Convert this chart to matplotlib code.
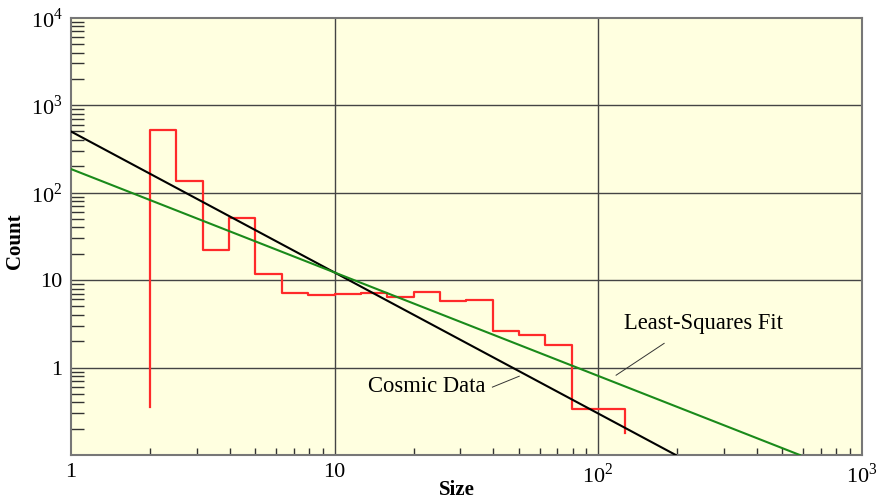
import numpy as np
import matplotlib
matplotlib.use('Agg')
import matplotlib.pyplot as plt
from matplotlib.ticker import LogLocator, FixedLocator, NullFormatter

plt.rcParams['font.family'] = ['Liberation Serif', 'DejaVu Serif']
plt.rcParams['mathtext.fontset'] = 'custom'
plt.rcParams['mathtext.rm'] = 'Liberation Serif'

# histogram of sizes (log bins, 10 per decade)
bin_edges = [2.0, 2.51, 3.16, 3.98, 5.01, 6.31, 7.94, 10.0, 12.6, 15.8, 20.0,
             25.1, 31.6, 39.8, 50.1, 63.1, 79.4, 100.0, 125.9]
counts = [519, 135, 21.8, 51, 11.7, 7.1, 6.75, 6.9, 7.2, 6.35, 7.3,
          5.75, 5.97, 2.64, 2.34, 1.81, 0.34, 0.34]
start_low = 0.35
end_low = 0.177

# two straight lines (end points)
black_x = [1, 197]
black_y = [500, 0.1]
green_x = [1, 582]
green_y = [186, 0.1]

x_ticks = [1, 10, 100, 1000]
x_labels = ['1', '10', r'$10^2$', r'$10^3$']
y_ticks = [1, 10, 100, 1000, 10000]
y_labels = ['1', '10', r'$10^2$', r'$10^3$', r'$10^4$']

fig = plt.figure(figsize=(8.81, 4.99), dpi=100)
ax = fig.add_axes([0.0806, 0.0882, 0.8975, 0.8763])
ax.set_facecolor('#ffffe0')
ax.set_xscale('log')
ax.set_yscale('log')
ax.set_xlim(1, 1000)
ax.set_ylim(0.1, 10000)

# grid at decades
for v in x_ticks[1:-1]:
    ax.axvline(v, color='#444444', lw=1.0, zorder=1)
for v in y_ticks[:-1]:
    ax.axhline(v, color='#444444', lw=1.0, zorder=1)

hx = np.repeat(bin_edges, 2)
hy = np.concatenate([[start_low], np.repeat(counts, 2), [end_low]])
ax.plot(hx, hy, color='#ff2a2a', lw=1.6, zorder=3)

ax.plot(black_x, black_y, color='black', lw=1.5, zorder=4)
ax.plot(green_x, green_y, color='#1a8a1a', lw=1.5, zorder=4)

# annotations
ax.text(250, 3.2, 'Least-Squares Fit', fontsize=16.3, ha='center', va='center')
ax.plot([178, 117], [1.89, 0.817], color='#333333', lw=0.7)
ax.text(22.3, 0.61, 'Cosmic Data', fontsize=16.3, ha='center', va='center')
ax.plot([39.7, 50.2], [0.597, 0.796], color='#333333', lw=0.7)

ax.xaxis.set_major_locator(FixedLocator(x_ticks))
ax.set_xticklabels(x_labels)
ax.yaxis.set_major_locator(FixedLocator(y_ticks))
ax.set_yticklabels(y_labels)
ax.xaxis.set_minor_locator(LogLocator(base=10, subs=np.arange(2, 10)))
ax.yaxis.set_minor_locator(LogLocator(base=10, subs=np.arange(2, 10)))
ax.xaxis.set_minor_formatter(NullFormatter())
ax.yaxis.set_minor_formatter(NullFormatter())

ax.tick_params(which='major', length=0, labelsize=16, pad=6)
ax.tick_params(axis='y', which='minor', direction='in', length=9, width=1, color='#333333')
ax.tick_params(axis='x', which='minor', direction='in', length=5, width=1, color='#333333')

for s in ax.spines.values():
    s.set_color('#777777')
    s.set_linewidth(1.5)

ax.set_xlabel('Size', fontsize=15, fontweight='bold')
ax.set_ylabel('Count', fontsize=15, fontweight='bold')
ax.xaxis.set_label_coords(0.488, -0.057)
ax.yaxis.set_label_coords(-0.058, 0.49)

fig.savefig('out.png', dpi=100)
